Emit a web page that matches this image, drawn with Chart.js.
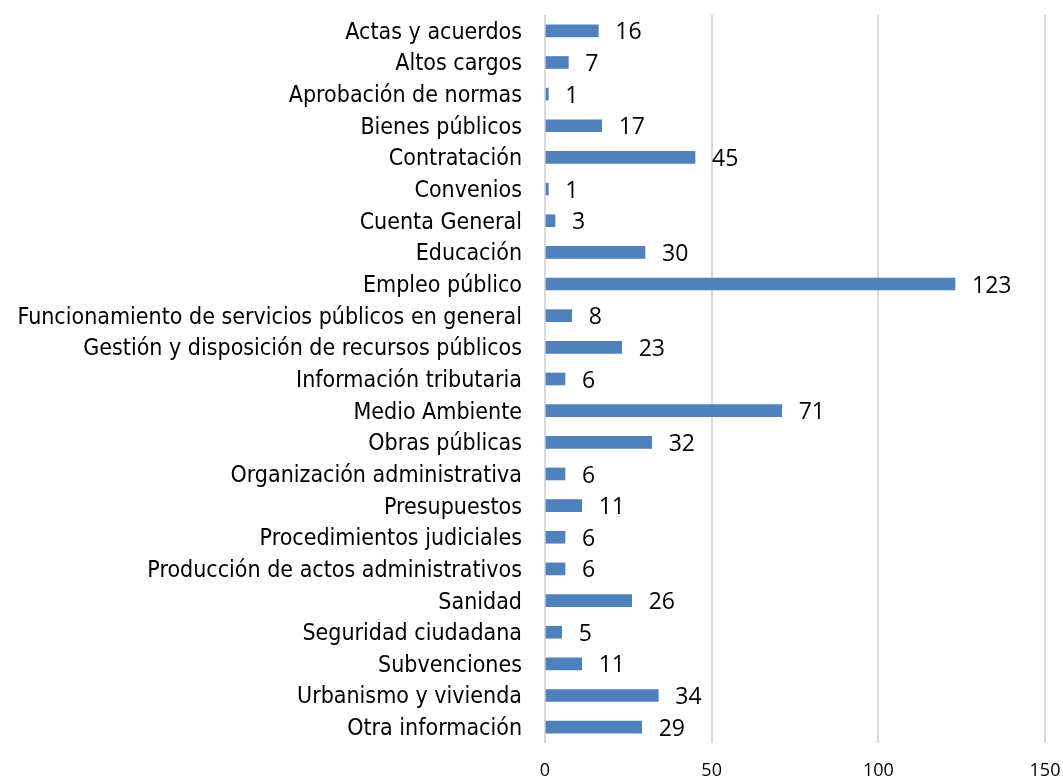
<!DOCTYPE html>
<html>
<head>
<meta charset="utf-8">
<script src="https://cdn.jsdelivr.net/npm/chart.js@4"></script>
<style>
  html, body { margin: 0; padding: 0; background: #fff; }
  #wrap { width: 1063px; height: 780px; }
</style>
</head>
<body>
<div id="wrap"><canvas id="grafico"></canvas></div>
<script>
// categorias y valores
const categorias = [
  'Actas y acuerdos', 'Altos cargos', 'Aprobación de normas', 'Bienes públicos',
  'Contratación', 'Convenios', 'Cuenta General', 'Educación', 'Empleo público',
  'Funcionamiento de servicios públicos en general',
  'Gestión y disposición de recursos públicos', 'Información tributaria',
  'Medio Ambiente', 'Obras públicas', 'Organización administrativa',
  'Presupuestos', 'Procedimientos judiciales', 'Producción de actos administrativos',
  'Sanidad', 'Seguridad ciudadana', 'Subvenciones', 'Urbanismo y vivienda',
  'Otra información'
];
const valores = [16, 7, 1, 17, 45, 1, 3, 30, 123, 8, 23, 6, 71, 32, 6, 11, 6, 6, 26, 5, 11, 34, 29];
const ticksX = [0, 50, 100, 150];

//etiquetas de valor al final de cada barra
const etiquetas = {
  id: 'etiquetas',
  afterDatasetsDraw(chart) {
    const ctx = chart.ctx;
    const meta = chart.getDatasetMeta(0);
    ctx.save();
    ctx.font = '23px "Open Sans", "Liberation Sans", sans-serif';
    ctx.fillStyle = '#000';
    ctx.textBaseline = 'middle';
    ctx.textAlign = 'left';
    meta.data.forEach((bar, i) => {
      ctx.fillText(valores[i], bar.x + 17, bar.y + 2);
    });
    ctx.restore();
  }
};

const config = {
  type: 'bar',
  data: {
    labels: categorias,
    datasets: [{
      data: valores,
      backgroundColor: '#4f81bd',
      borderWidth: 0,
      barThickness: 12
    }]
  },
  options: {
    indexAxis: 'y',
    responsive: true,
    maintainAspectRatio: false,
    animation: false,
    layout: { padding: { top: 15, right: 18, left: 0, bottom: 0 } },
    plugins: { legend: { display: false }, tooltip: { enabled: false } },
    scales: {
      x: {
        min: 0, max: 150,
        afterBuildTicks: (axis) => { axis.ticks = ticksX.map(v => ({ value: v })) },
        afterFit: (axis) => { axis.height = 37; axis.paddingLeft = 0; axis.paddingRight = 0 },
        grid: { color: '#d9d9d9', lineWidth: 2, drawTicks: false },
        border: { display: false },
        ticks: { color: '#000', padding: 17, font: { size: 18, family: '"Open Sans", sans-serif' } }
      },
      y: {
        afterFit: (axis) => { axis.width = 545; axis.paddingTop = 0; axis.paddingBottom = 0 },
        grid: { display: false, drawTicks: false },
        border: { display: false },
        ticks: {
          color: '#000', padding: 23, autoSkip: false, labelOffset: 2,
          font: { size: 23, family: '"DejaVu Sans Condensed", "DejaVu Sans", sans-serif' }
        }
      }
    }
  },
  plugins: [etiquetas]
};

new Chart(document.getElementById('grafico'), config);
</script>
</body>
</html>
